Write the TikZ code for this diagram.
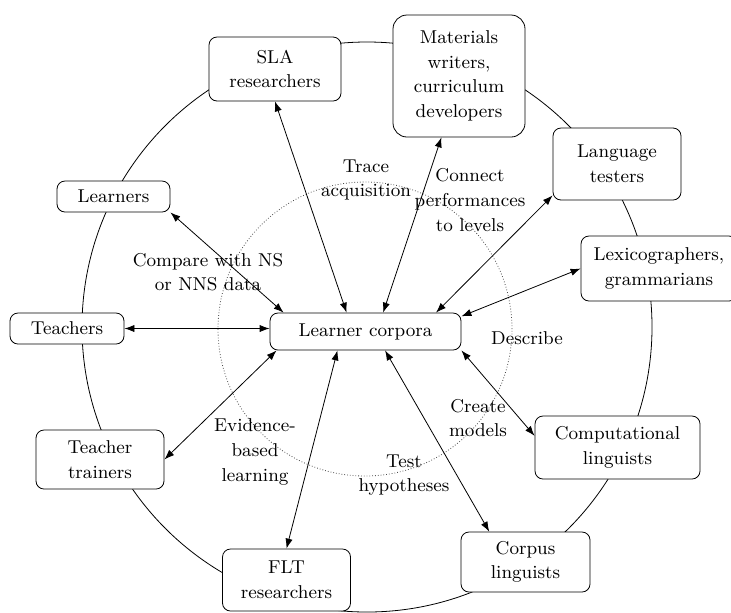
\documentclass[tikz,border=0pt]{standalone}
\usetikzlibrary{arrows.meta}

\tikzset{
  role/.style={draw, rounded corners=4pt, fill=white, align=center, inner sep=1pt},
  use/.style={align=center, inner sep=0pt},
  link/.style={arrows={Latex[length=5pt,width=3.6pt]-Latex[length=5pt,width=3.6pt]}},
}

\begin{document}
\begin{tikzpicture}[x=0.5pt, y=-0.5pt, thin, font=\fontsize{9.3}{12.3}\selectfont]
    \useasboundingbox (0,0) rectangle (731,612);
    % Circulos
    \draw (367,327) circle (142.5pt);
    \draw[densely dotted, black!70] (365,329) circle (73.5pt);
    % Centro
    \node[role, minimum width=95.5pt, minimum height=18.5pt] (lc) at (365.5,331.5) {Learner corpora};
    % Usuarios
    \node[role, minimum width=66pt, minimum height=32pt] (sla) at (275,69) {SLA\\researchers};
    \node[role, rounded corners=7pt, minimum width=66pt, minimum height=61pt] (mat) at (459,76) {Materials\\writers,\\curriculum\\developers};
    \node[role, minimum width=64pt, minimum height=36pt] (lt) at (617,164) {Language\\testers};
    \node[role, minimum width=78pt, minimum height=32.5pt] (lex) at (659,268.5) {Lexicographers,\\grammarians};
    \node[role, minimum width=82.5pt, minimum height=31.5pt] (comp) at (617.5,447.5) {Computational\\linguists};
    \node[role, minimum width=64.5pt, minimum height=30pt] (corp) at (525.5,562) {Corpus\\linguists};
    \node[role, minimum width=64pt, minimum height=31pt] (flt) at (286.5,580) {FLT\\researchers};
    \node[role, minimum width=64pt, minimum height=29.5pt] (tt) at (100,459.5) {Teacher\\trainers};
    \node[role, minimum width=57pt, minimum height=15.5pt] (tea) at (67,328.5) {Teachers};
    \node[role, minimum width=56.5pt, minimum height=15.5pt] (lrn) at (113.5,196.5) {Learners};
    % Usos
    \node[use] (trace) at (366,180) {Trace\\acquisition};
    \node[use] (connect) at (470,200) {Connect\\performances\\to levels};
    \node[use] (compare) at (208,272) {Compare with NS\\or NNS data};
    \node[use] (describe) at (527,338) {Describe};
    \node[use] (create) at (478,418) {Create\\models};
    \node[use] (test) at (404,475) {Test\\hypotheses};
    \node[use] (evid) at (255,452) {Evidence-\\based\\learning};
    % Flechas
    \draw[link] (lrn.south east) -- (lc.167);
    \draw[link] (sla.south) -- (lc.135);
    \draw[link] (mat.254) -- (lc.47);
    \draw[link] (lt.206) -- (lc.15);
    \draw[link] (lex.west) -- (lc.9);
    \draw[link] (tea.east) -- (tea.east -| lc.west);
    \draw[link] (tt.east) -- (lc.192);
    \draw[link] (flt.north) -- (lc.214);
    \draw[link] (corp.140) -- (lc.316);
    \draw[link] (comp.172) -- (lc.south east);
\end{tikzpicture}
\end{document}
